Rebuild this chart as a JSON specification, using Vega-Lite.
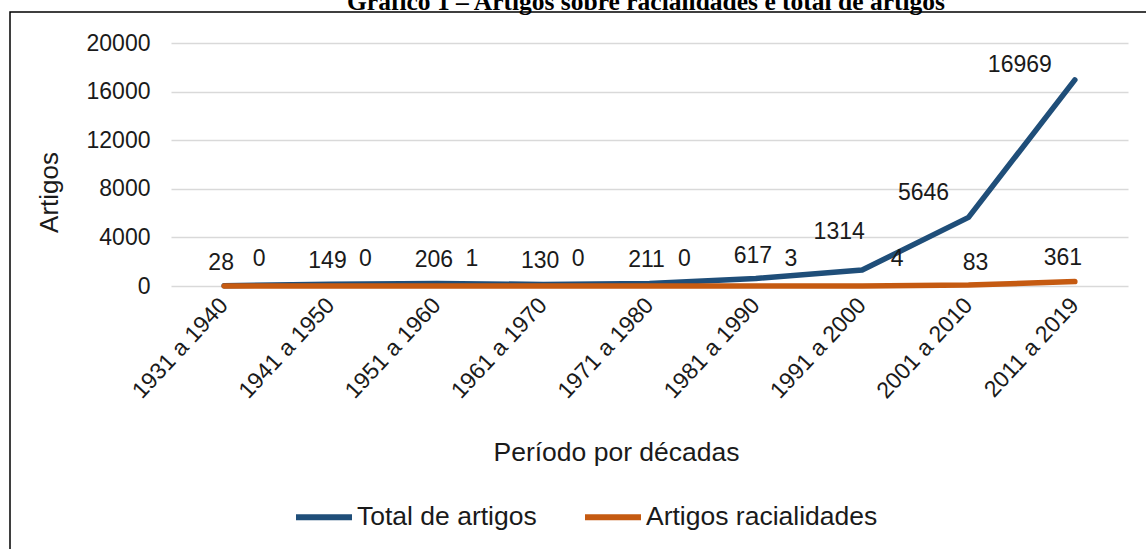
{
  "$schema": "https://vega.github.io/schema/vega-lite/v6.json",
  "width": 1137,
  "height": 538,
  "autosize": {"type": "none"},
  "padding": {"left": 10, "top": 12, "right": 0, "bottom": 0},
  "background": "white",
  "title": {
    "text": "Gráfico 1 – Artigos sobre racialidades e total de artigos",
    "font": "Liberation Serif",
    "fontSize": 25.5,
    "fontWeight": "bold",
    "color": "#000000",
    "anchor": "start",
    "frame": "group",
    "offset": 0,
    "baseline": "alphabetic",
    "dx": 337,
    "dy": 23
  },
  "config": {
    "view": {"stroke": "#000000", "strokeWidth": 1.5},
    "font": "Liberation Sans"
  },
  "data": {
    "values": [
      {"periodo": "1931 a 1940", "serie": "Total de artigos", "artigos": 28},
      {"periodo": "1941 a 1950", "serie": "Total de artigos", "artigos": 149},
      {"periodo": "1951 a 1960", "serie": "Total de artigos", "artigos": 206},
      {"periodo": "1961 a 1970", "serie": "Total de artigos", "artigos": 130},
      {"periodo": "1971 a 1980", "serie": "Total de artigos", "artigos": 211},
      {"periodo": "1981 a 1990", "serie": "Total de artigos", "artigos": 617},
      {"periodo": "1991 a 2000", "serie": "Total de artigos", "artigos": 1314},
      {"periodo": "2001 a 2010", "serie": "Total de artigos", "artigos": 5646},
      {"periodo": "2011 a 2019", "serie": "Total de artigos", "artigos": 16969},
      {"periodo": "1931 a 1940", "serie": "Artigos racialidades", "artigos": 0},
      {"periodo": "1941 a 1950", "serie": "Artigos racialidades", "artigos": 0},
      {"periodo": "1951 a 1960", "serie": "Artigos racialidades", "artigos": 1},
      {"periodo": "1961 a 1970", "serie": "Artigos racialidades", "artigos": 0},
      {"periodo": "1971 a 1980", "serie": "Artigos racialidades", "artigos": 0},
      {"periodo": "1981 a 1990", "serie": "Artigos racialidades", "artigos": 3},
      {"periodo": "1991 a 2000", "serie": "Artigos racialidades", "artigos": 4},
      {"periodo": "2001 a 2010", "serie": "Artigos racialidades", "artigos": 83},
      {"periodo": "2011 a 2019", "serie": "Artigos racialidades", "artigos": 361}
    ]
  },
  "encoding": {
    "x": {
      "field": "periodo",
      "type": "nominal",
      "sort": null,
      "scale": {"type": "band", "range": [161, 1118], "paddingInner": 0, "paddingOuter": 0},
      "axis": {
        "title": "Período por décadas",
        "titleFont": "Liberation Sans",
        "titleFontSize": 26.5,
        "titleFontWeight": "normal",
        "titleColor": "#1a1a1a",
        "titleX": 606,
        "titleY": 166,
        "titleAnchor": "middle",
        "titleAlign": "center",
        "titleBaseline": "middle",
        "offset": -264,
        "domain": false,
        "ticks": false,
        "tickSize": 0,
        "labelAngle": -47,
        "labelAlign": "right",
        "labelBaseline": "middle",
        "labelPadding": 15,
        "labelFontSize": 23,
        "labelColor": "#1a1a1a",
        "labelLimit": 300
      }
    },
    "y": {
      "field": "artigos",
      "type": "quantitative",
      "scale": {"domain": [0, 20000], "range": [274, 31], "nice": false, "zero": true},
      "axis": {
        "title": "Artigos",
        "titleFont": "Liberation Sans",
        "titleFontSize": 26,
        "titleFontWeight": "normal",
        "titleColor": "#1a1a1a",
        "titleAngle": -90,
        "titleX": -109,
        "titleY": 180,
        "titleAlign": "center",
        "titleBaseline": "middle",
        "offset": -148,
        "values": [0, 4000, 8000, 12000, 16000, 20000],
        "format": "d",
        "domain": false,
        "ticks": false,
        "tickSize": 0,
        "labelPadding": 8,
        "labelFontSize": 23,
        "labelColor": "#1a1a1a",
        "grid": true,
        "gridColor": "#d9d9d9",
        "gridWidth": 1.5
      }
    }
  },
  "layer": [
    {
      "mark": {"type": "line", "strokeWidth": 5.5, "strokeCap": "round", "strokeJoin": "round"},
      "encoding": {
        "color": {
          "field": "serie",
          "type": "nominal",
          "scale": {"domain": ["Total de artigos", "Artigos racialidades"], "range": ["#1F4E79", "#C55A11"]},
          "legend": {
            "title": null,
            "orient": "none",
            "direction": "horizontal",
            "legendX": 283,
            "legendY": 474,
            "symbolType": "stroke",
            "symbolSize": 3136,
            "symbolStrokeWidth": 6,
            "labelFontSize": 26.5,
            "labelFont": "Liberation Sans",
            "labelColor": "#1a1a1a",
            "labelOffset": 2,
            "labelLimit": 400,
            "columnPadding": 36
          }
        }
      }
    },
    {
      "transform": [{"filter": "datum.serie === 'Total de artigos' && datum.periodo !== '1991 a 2000' && datum.periodo !== '2001 a 2010' && datum.periodo !== '2011 a 2019'"}],
      "mark": {"type": "text", "fontSize": 23, "color": "#1a1a1a", "baseline": "middle", "align": "center", "dx": -3, "dy": -23},
      "encoding": {"text": {"field": "artigos", "type": "quantitative", "format": "d"}}
    },
    {
      "transform": [{"filter": "datum.serie === 'Total de artigos' && datum.periodo === '1991 a 2000'"}],
      "mark": {"type": "text", "fontSize": 23, "color": "#1a1a1a", "baseline": "middle", "align": "center", "dx": -23, "dy": -38},
      "encoding": {"text": {"field": "artigos", "type": "quantitative", "format": "d"}}
    },
    {
      "transform": [{"filter": "datum.serie === 'Total de artigos' && datum.periodo === '2001 a 2010'"}],
      "mark": {"type": "text", "fontSize": 23, "color": "#1a1a1a", "baseline": "middle", "align": "center", "dx": -45, "dy": -24},
      "encoding": {"text": {"field": "artigos", "type": "quantitative", "format": "d"}}
    },
    {
      "transform": [{"filter": "datum.serie === 'Total de artigos' && datum.periodo === '2011 a 2019'"}],
      "mark": {"type": "text", "fontSize": 23, "color": "#1a1a1a", "baseline": "middle", "align": "center", "dx": -55, "dy": -15},
      "encoding": {"text": {"field": "artigos", "type": "quantitative", "format": "d"}}
    },
    {
      "transform": [{"filter": "datum.serie === 'Artigos racialidades' && datum.periodo !== '2001 a 2010' && datum.periodo !== '2011 a 2019'"}],
      "mark": {"type": "text", "fontSize": 23, "color": "#1a1a1a", "baseline": "middle", "align": "center", "dx": 35, "dy": -27},
      "encoding": {"text": {"field": "artigos", "type": "quantitative", "format": "d"}}
    },
    {
      "transform": [{"filter": "datum.serie === 'Artigos racialidades' && datum.periodo === '2001 a 2010'"}],
      "mark": {"type": "text", "fontSize": 23, "color": "#1a1a1a", "baseline": "middle", "align": "center", "dx": 7, "dy": -22},
      "encoding": {"text": {"field": "artigos", "type": "quantitative", "format": "d"}}
    },
    {
      "transform": [{"filter": "datum.serie === 'Artigos racialidades' && datum.periodo === '2011 a 2019'"}],
      "mark": {"type": "text", "fontSize": 23, "color": "#1a1a1a", "baseline": "middle", "align": "center", "dx": -12, "dy": -24},
      "encoding": {"text": {"field": "artigos", "type": "quantitative", "format": "d"}}
    }
  ]
}
